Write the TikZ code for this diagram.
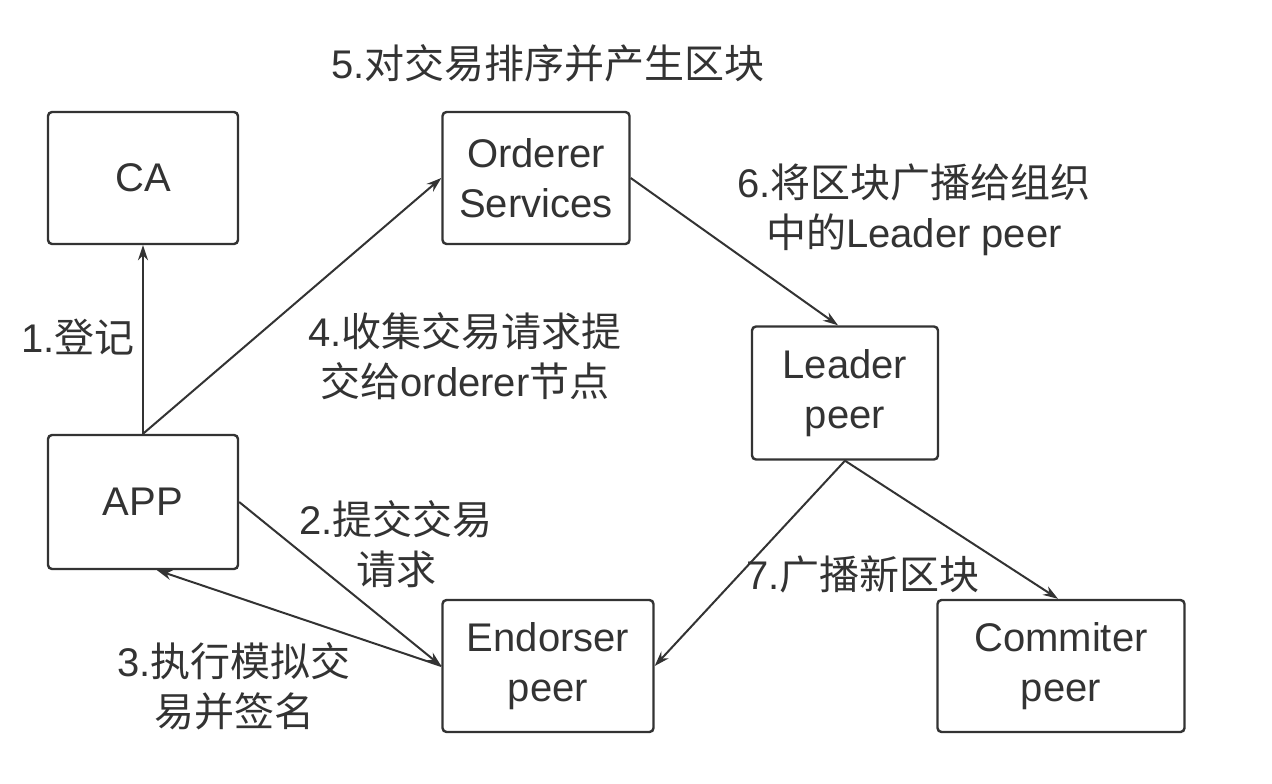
\documentclass[tikz,border=0pt]{standalone}
\usepackage{fontspec}
\setmainfont{Liberation Sans}
\newfontfamily\cjk{Noto Sans CJK SC}
\usetikzlibrary{arrows.meta}
\definecolor{ink}{HTML}{333333}
\newcommand{\zh}[1]{{\cjk #1}}

\begin{document}
\begin{tikzpicture}[x=1pt, y=-1pt, font=\fontsize{40}{50}\selectfont, text=ink,
    box/.style={draw=ink, line width=2.4pt, rounded corners=4pt, align=center, inner sep=0pt},
    flow/.style={draw=ink, line width=2pt, -{Stealth[length=15pt, width=10pt]}},
    note/.style={align=center}]
    \useasboundingbox (0,0) rectangle (1272,784);

    % boxes
    \node[box, minimum width=190pt, minimum height=132pt] (CA)       at (143,178)  {CA};
    \node[box, minimum width=187pt, minimum height=132pt] (Orderer)  at (536,178)  {Orderer\\Services};
    \node[box, minimum width=186pt, minimum height=133pt] (Leader)   at (845,393)  {Leader\\peer};
    \node[box, minimum width=190pt, minimum height=134pt] (APP)      at (143,502)  {APP};
    \node[box, minimum width=211pt, minimum height=132pt] (Endorser) at (548,666)  {Endorser\\peer};
    \node[box, minimum width=247pt, minimum height=132pt] (Commiter) at (1061,666) {Commiter\\peer};

    % steps
    \node[note] (Step 1) at (78,337)  {1.\zh{登记}};
    \node[note] (Step 2) at (396,544) {2.\zh{提交交易}\\\zh{请求}};
    \node[note] (Step 3) at (234,686) {3.\zh{执行模拟交}\\\zh{易并签名}};
    \node[note] (Step 4) at (465,356) {4.\zh{收集交易请求提}\\\zh{交给}orderer\zh{节点}};
    \node[note] (Step 5) at (548,63)  {5.\zh{对交易排序并产生区块}};
    \node[note] (Step 6) at (914,210) {6.\zh{将区块广播给组织}\\\zh{中的}Leader peer};
    \node[note] (Step 7) at (863,574) {7.\zh{广播新区块}};

    \draw[flow] (APP.north) -- (CA.south);
    \draw[flow] (APP.north) -- (Orderer.west);
    \draw[flow] (APP.east) -- (Endorser.west);
    \draw[flow] (Endorser.west) -- ([xshift=14pt]APP.south);
    \draw[flow] (Orderer.east) -- ([xshift=-7pt]Leader.north);
    \draw[flow] (Leader.south) -- (Endorser.east);
    \draw[flow] (Leader.south) -- ([xshift=-3pt]Commiter.north);
\end{tikzpicture}
\end{document}
